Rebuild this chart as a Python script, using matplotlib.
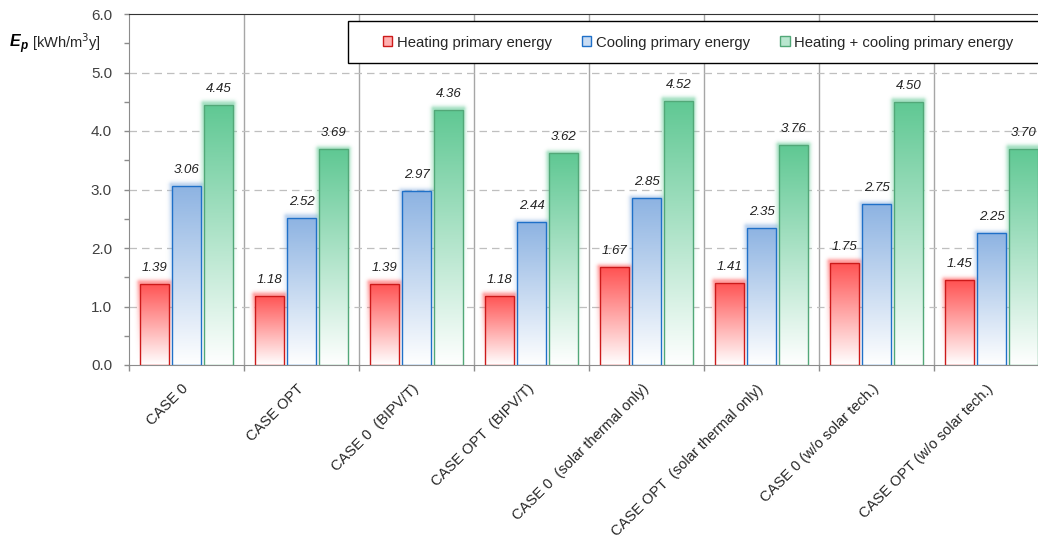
import numpy as np
import matplotlib
matplotlib.use("Agg")
import matplotlib.pyplot as plt
import matplotlib.transforms as mtransforms
from matplotlib.patches import Rectangle, Patch
from matplotlib.colors import LinearSegmentedColormap, to_rgb

plt.rcParams['font.family'] = ['Liberation Sans', 'DejaVu Sans']

categories = [
    "CASE 0", "CASE OPT", "CASE 0  (BIPV/T)", "CASE OPT  (BIPV/T)",
    "CASE 0  (solar thermal only)", "CASE OPT  (solar thermal only)",
    "CASE 0 (w/o solar tech.)", "CASE OPT (w/o solar tech.)",
]
heating = [1.39, 1.18, 1.39, 1.18, 1.67, 1.41, 1.75, 1.45]
cooling = [3.06, 2.52, 2.97, 2.44, 2.85, 2.35, 2.75, 2.25]
total = [4.45, 3.69, 4.36, 3.62, 4.52, 3.76, 4.50, 3.70]
series_names = ["Heating primary energy", "Cooling primary energy",
                "Heating + cooling primary energy"]
y_ticks = [0.0, 1.0, 2.0, 3.0, 4.0, 5.0, 6.0]

top_colors = ["#ff5252", "#8db3e2", "#5fc893"]
edge_colors = ["#cc1a1a", "#1f70c8", "#52a878"]
legend_fills = ["#ffb0b0", "#c9dcf3", "#b9e6cf"]

W, H = 1038, 537
fig = plt.figure(figsize=(W / 100, H / 100), dpi=100)
ax_left, ax_bottom, ax_w, ax_h = 129, 365, 920, 351
ax = fig.add_axes([ax_left / W, 1 - ax_bottom / H, ax_w / W, ax_h / H])

n = len(categories)
ymax = 6.0
px_x = ax_w / n          # pixels per x data unit
px_y = ax_h / ymax       # pixels per y data unit

bar_w = 0.252
offsets = [-0.278, 0.0, 0.278]


def glow_image(x0, w, v, color):
    """Soft halo around a bar, strongest near its top."""
    gx, gy = 8 / px_x, 8 / px_y
    nx = int(round((w + 2 * gx) * px_x))
    ny = int(round((v + gy) * px_y))
    xs = (np.arange(nx) + 0.5) / px_x + (x0 - gx)
    ys = (np.arange(ny) + 0.5) / px_y
    X, Y = np.meshgrid(xs, ys)
    dx = np.maximum(np.maximum(x0 - X, X - (x0 + w)), 0) * px_x
    dy = np.maximum(Y - v, 0) * px_y
    d = np.hypot(dx, dy)
    a = 0.55 * np.exp(-(d / 3.2) ** 2)
    a *= np.clip(Y / v, 0, 1) ** 1.5
    rgba = np.zeros((ny, nx, 4))
    rgba[..., :3] = to_rgb(color)
    rgba[..., 3] = a
    return rgba, (x0 - gx, x0 + w + gx, 0, v + gy)


grad = np.linspace(0, 1, 256).reshape(-1, 1)
for s, vals in enumerate([heating, cooling, total]):
    cmap = LinearSegmentedColormap.from_list(f"g{s}", ["#ffffff", top_colors[s]])
    for i, v in enumerate(vals):
        x0 = i + 0.5 + offsets[s] - bar_w / 2
        g, ext = glow_image(x0, bar_w, v, top_colors[s])
        ax.imshow(g, extent=ext, origin='lower', aspect='auto', zorder=2,
                  interpolation='bilinear')
        im = ax.imshow(grad, extent=(x0, x0 + bar_w, 0, v), origin='lower',
                       cmap=cmap, aspect='auto', zorder=3, interpolation='bilinear')
        im.set_clip_path(Rectangle((x0, 0), bar_w, v, transform=ax.transData))
        ax.add_patch(Rectangle((x0, 0), bar_w, v, facecolor='none',
                               edgecolor=edge_colors[s], linewidth=1.0, zorder=4))
        ax.text(x0 + bar_w / 2, v + 0.17, f"{v:.2f}", ha='center', va='bottom',
                fontsize=9.5, style='italic', color='#222222', zorder=5)

ax.set_xlim(0, n)
ax.set_ylim(0, ymax)

# group separators
for b in range(1, n):
    ax.axvline(b, color='#a6a6a6', linewidth=1.0, zorder=1)

# dashed horizontal grid
for y in y_ticks[1:-1]:
    ax.axhline(y, color='#bfbfbf', linewidth=0.9, dashes=(6, 4), zorder=1)

ax.set_yticks(y_ticks)
ax.set_yticklabels([f"{t:.1f}" for t in y_ticks])
ax.set_yticks(np.arange(0.5, 6.0, 1.0), minor=True)
ax.set_xticks(np.arange(n) + 0.5)
ax.set_xticklabels(categories, rotation=45, ha='right', va='top',
                   rotation_mode='anchor', fontsize=10.5, color='#262626')
ax.set_xticks(np.arange(0, n + 1), minor=True)
ax.tick_params(axis='x', which='major', length=0, pad=12)
ax.tick_params(axis='x', which='minor', length=4.3, color='#8c8c8c', width=1)
ax.tick_params(axis='y', which='both', length=3.6, color='#8c8c8c', width=1,
               labelsize=11, labelcolor='#404040', pad=8.6)

shift = mtransforms.ScaledTranslation(-5 / 100, 0, fig.dpi_scale_trans)
for lbl in ax.get_xticklabels():
    lbl.set_transform(lbl.get_transform() + shift)

for side in ['left', 'bottom']:
    ax.spines[side].set_color('#8c8c8c')
ax.spines['top'].set_color('#333333')
ax.spines['right'].set_visible(False)

# axis title
fig.text(10 / W, 1 - 42 / H, "E", fontsize=11.5, fontweight='bold', style='italic',
         ha='left', va='center', color='#000000')
fig.text(20.5 / W, 1 - 46 / H, "p", fontsize=8.5, fontweight='bold', style='italic',
         ha='left', va='center', color='#000000')
fig.text(32 / W, 1 - 42 / H, r"[kWh/m$^3$y]", fontsize=10.5, ha='left', va='center',
         color='#262626')

# legend box running off the right edge
fig.patches.append(Rectangle((348 / W, 1 - 63 / H), (1060 - 348) / W, 42 / H,
                             transform=fig.transFigure, facecolor='white',
                             edgecolor='#000000', linewidth=1.0, zorder=6))
handles = [Patch(facecolor=f, edgecolor=e, linewidth=1.0)
           for f, e in zip(legend_fills, edge_colors)]
leg = fig.legend(handles, series_names, loc='center left',
                 bbox_to_anchor=(383 / W, 1 - 42.5 / H),
                 ncol=3, frameon=False, fontsize=10.7,
                 handlelength=0.62, handleheight=0.62, handletextpad=0.3,
                 columnspacing=2.05, borderpad=0, borderaxespad=0)
leg.set_zorder(7)
for t in leg.get_texts():
    t.set_color('#262626')

fig.savefig("out.png", dpi=100)
